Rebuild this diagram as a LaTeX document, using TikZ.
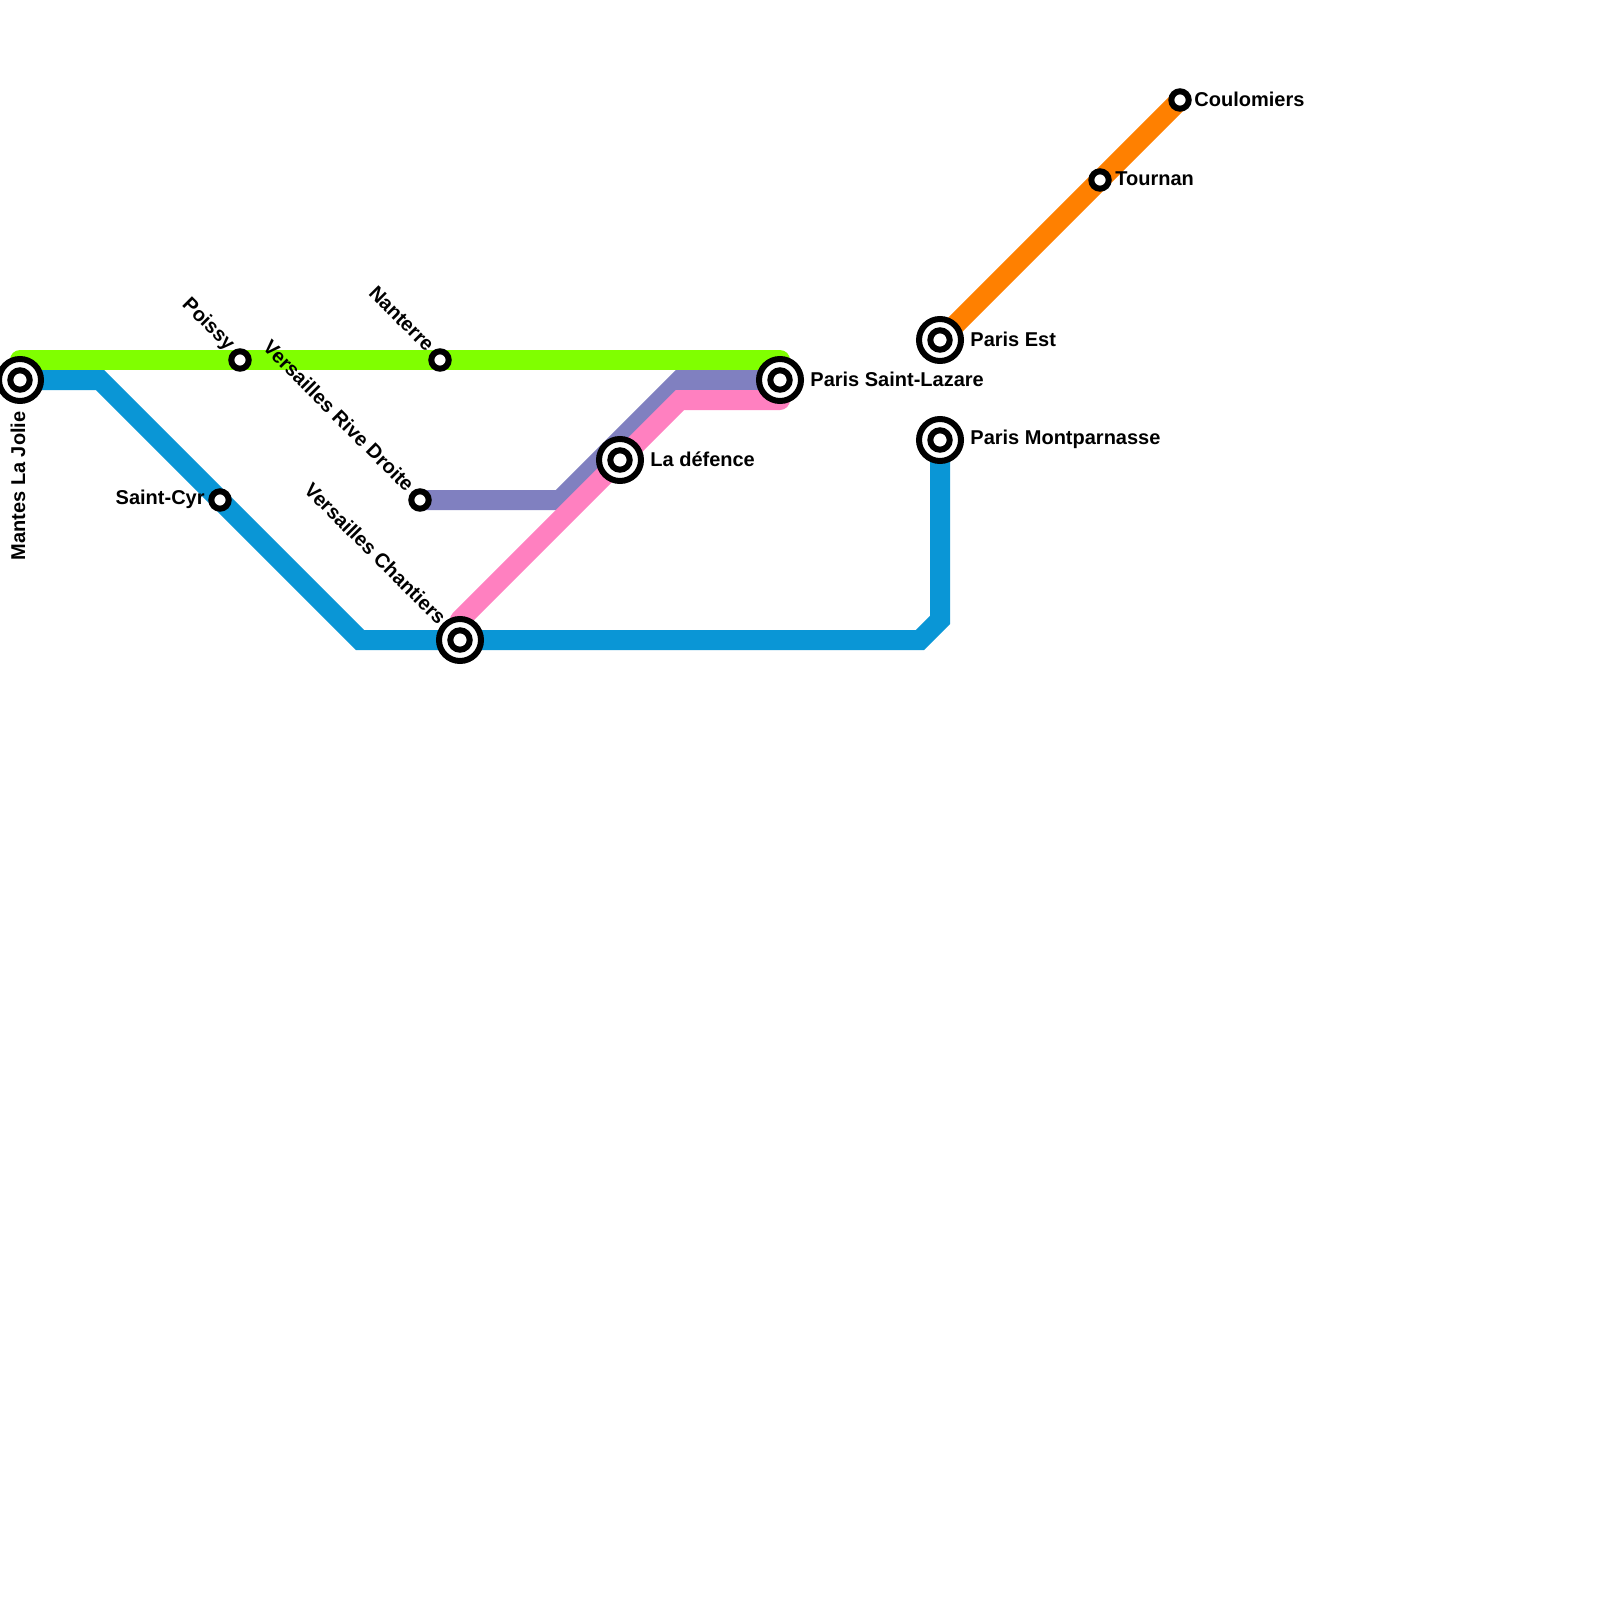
\documentclass[tikz,border=0pt]{standalone}
\usepackage{fontspec}
\setmainfont{Liberation Sans}
\definecolor{lgreen}{HTML}{80FF00}
\definecolor{lblue}{HTML}{0A96D6}
\definecolor{lpurple}{HTML}{8080C0}
\definecolor{lpink}{HTML}{FF80C0}
\definecolor{lorange}{HTML}{FF8000}
\pgfdeclarelayer{paper}
\pgfdeclarelayer{bg}
\pgfsetlayers{paper,bg,main}
\begin{document}
\begin{tikzpicture}[x=0.5pt,y=-0.5pt,
  rail/.style={line width=10pt, line cap=round, line join=miter},
  bigst/.style={circle, draw=black, fill=white, line width=3pt, minimum size=21pt, inner sep=0pt},
  smallst/.style={circle, draw=black, fill=white, line width=3pt, minimum size=8.7pt, inner sep=0pt},
  innerring/.style={draw=black, fill=white, line width=3pt},
  lbl/.style={font=\bfseries\fontsize{10pt}{12pt}\selectfont, inner sep=0pt, text=black},
]
\useasboundingbox (0,0) rectangle (1600,1600);
\begin{pgfonlayer}{paper}
\fill[white] (0,0) rectangle (1600,1600);
\end{pgfonlayer}

% stations
\node[bigst] (mantes) at (20,380) {};
\node[smallst] (poissy) at (240,360) {};
\node[smallst] (nanterre) at (440,360) {};
\node[smallst] (saintcyr) at (220,500) {};
\node[smallst] (vrd) at (420,500) {};
\node[bigst] (vch) at (460,640) {};
\node[bigst] (defence) at (620,460) {};
\node[bigst] (lazare) at (780,380) {};
\node[bigst] (est) at (940,340) {};
\node[bigst] (montp) at (940,440) {};
\node[smallst] (tournan) at (1100,180) {};
\node[smallst] (coulom) at (1180,100) {};
\foreach \n in {mantes,vch,defence,lazare,est,montp}
  \draw[innerring] (\n.center) circle[radius=4.85pt];

% bend points
\coordinate (g1) at (20,360);
\coordinate (g2) at (780,360);
\coordinate (b1) at (100,380);
\coordinate (b2) at (360,640);
\coordinate (b3) at (920,640);
\coordinate (b4) at (940,620);
\coordinate (p1) at (560,500);
\coordinate (p2) at (680,380);
\coordinate (k0) at (460,620);
\coordinate (k1) at (680,400);
\coordinate (k2) at (780,400);

\begin{pgfonlayer}{bg}
\draw[rail, lgreen] (g1) -- (poissy.center) -- (nanterre.center) -- (g2);
\draw[rail, lblue] (mantes.center) -- (b1) -- (saintcyr.center) -- (b2) -- (vch.center) -- (b3) -- (b4) -- (montp.center);
\draw[rail, lpurple] (vrd.center) -- (p1) -- (p2) -- (lazare.center);
\draw[rail, lpink] (k0) -- (defence.center) -- (k1) -- (k2);
\draw[rail, lorange] (est.center) -- (tournan.center) -- (coulom.center);
\end{pgfonlayer}

% labels
\node[lbl, rotate=90, anchor=east] (lmantes) at (18,411) {Mantes La Jolie};
\node[lbl, rotate=-45, anchor=east] (lpoissy) at (231,348) {Poissy};
\node[lbl, rotate=-45, anchor=east] (lnanterre) at (431,348) {Nanterre};
\node[lbl, rotate=-45, anchor=east] (lvrd) at (411,488) {Versailles Rive Droite};
\node[lbl, rotate=-45, anchor=east] (lvch) at (443,621) {Versailles Chantiers};
\node[lbl, anchor=east] (lsaintcyr) at (205,499) {Saint-Cyr};
\node[lbl, anchor=west] (ldefence) at (650,459) {La défence};
\node[lbl, anchor=west] (llazare) at (810,379) {Paris Saint-Lazare};
\node[lbl, anchor=west] (lest) at (970,339) {Paris Est};
\node[lbl, anchor=west] (lmontp) at (970,439) {Paris Montparnasse};
\node[lbl, anchor=west] (ltournan) at (1115,179) {Tournan};
\node[lbl, anchor=west] (lcoulom) at (1194,99) {Coulomiers};
\end{tikzpicture}
\end{document}
